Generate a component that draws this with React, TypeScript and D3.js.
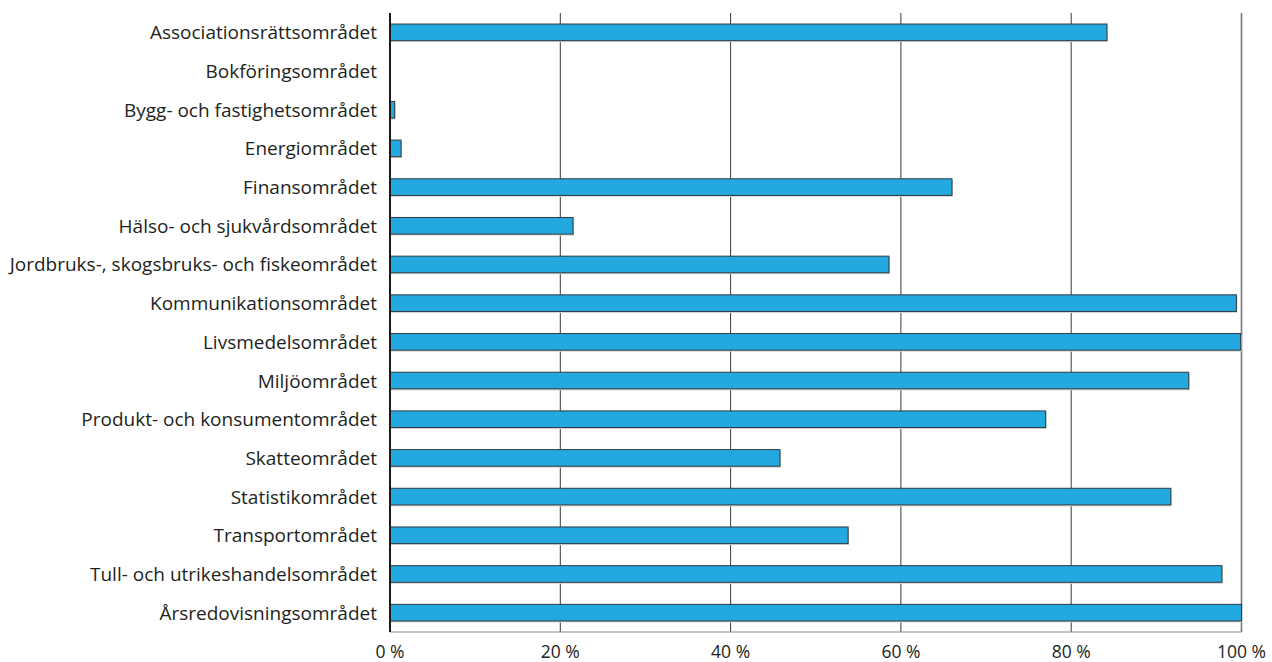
import React from "react";
import * as d3 from "d3";

const categories: string[] = [
  "Associationsrättsområdet",
  "Bokföringsområdet",
  "Bygg- och fastighetsområdet",
  "Energiområdet",
  "Finansområdet",
  "Hälso- och sjukvårdsområdet",
  "Jordbruks-, skogsbruks- och fiskeområdet",
  "Kommunikationsområdet",
  "Livsmedelsområdet",
  "Miljöområdet",
  "Produkt- och konsumentområdet",
  "Skatteområdet",
  "Statistikområdet",
  "Transportområdet",
  "Tull- och utrikeshandelsområdet",
  "Årsredovisningsområdet",
];

const values: number[] = [84.2, 0, 0.55, 1.3, 66.0, 21.5, 58.6, 99.4, 99.9, 93.8, 77.0, 45.8, 91.7, 53.8, 97.7, 100];

const ticks: number[] = [0, 20, 40, 60, 80, 100];

const W = 1272;
const H = 662;
const left = 390;
const right = 1241.5;
const top = 13;
const bottom = 632;

export default function App() {
  const x = d3.scaleLinear().domain([0, 100]).range([left, right]);
  const y = d3.scaleBand<string>().domain(categories).range([top, bottom]).paddingInner(0.57).paddingOuter(0.285);
  const font = "'Open Sans', sans-serif";
  return (
    <svg width={W} height={H} style={{ position: "absolute", left: 0, top: 0, background: "#fff" }}>
      {ticks.map((t) => (
        <line key={"g" + t} x1={x(t)} x2={x(t)} y1={top} y2={bottom} stroke={t === 100 ? "#777" : "#3a3a3a"} strokeWidth={t === 100 ? 1.6 : 1} />
      ))}
      <line x1={left} x2={right} y1={bottom} y2={bottom} stroke="#888" strokeWidth={1} />
      {categories.map((c, i) => {
        const w = x(values[i]) - x(0);
        if (values[i] <= 0) return null;
        return (
          <g key={c}>
            <rect x={x(0) + 1} y={(y(c) as number) + 1.5} width={w} height={y.bandwidth()} fill="#d4d4d4" />
            <rect x={x(0)} y={y(c)} width={w} height={y.bandwidth()} fill="#24a8e0" stroke="#2f3a40" strokeWidth={1} />
          </g>
        );
      })}
      <line x1={left} x2={left} y1={top} y2={bottom} stroke="#1a1a1a" strokeWidth={2} />
      {categories.map((c) => (
        <text key={"l" + c} x={377} y={(y(c) as number) + y.bandwidth() / 2} textAnchor="end" dominantBaseline="central" fontFamily={font} fontSize={19} fill="#231f20">
          {c}
        </text>
      ))}
      {ticks.map((t) => (
        <text key={"t" + t} x={x(t)} y={651} textAnchor="middle" dominantBaseline="central" fontFamily={font} fontSize={17.5} fill="#231f20">
          {t + " %"}
        </text>
      ))}
    </svg>
  );
}
